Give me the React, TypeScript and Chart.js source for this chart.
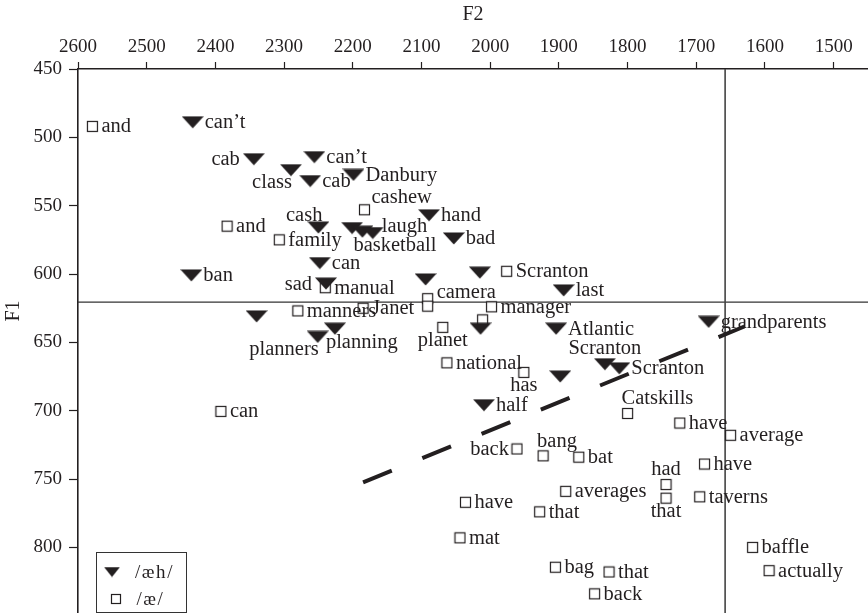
import React, { useEffect, useRef } from 'react';
import { Chart, registerables } from 'chart.js';

Chart.register(...registerables);

// ---------- data ----------
const seriesNames = ['/æh/', '/æ/'];

// /æh/ (filled triangles)
const aehF2 = [2433, 2344, 2256, 2290, 2262, 2199, 2250, 2201, 2186, 2171, 2089, 2053, 2248, 2435, 2239, 2094, 2015, 1893, 2340, 2251, 2226, 2014, 1904, 1682, 1833, 1812, 1898, 2009];
const aehF1 = [489, 516, 514.5, 524, 532, 527.5, 566, 566.4, 569, 570, 557, 574, 592, 601, 607, 604, 599, 612, 631, 646, 640, 640, 640, 635, 666, 669, 675, 696];
const aehWords = ['can’t', 'cab', 'can’t', 'class', 'cab', 'Danbury', 'cash', '', 'basketball', 'laugh', 'hand', 'bad', 'can', 'ban', 'sad', '', '', 'last', '', 'planners', 'planning', '', 'Atlantic', 'grandparents', 'Scranton', 'Scranton', '', 'half'];
const aehLabelSide = ['r', 'l', 'r', 'bl', 'r', 'r', 'al', '', 'br', 'ru', 'r', 'r', 'r', 'r', 'l', '', '', 'r', '', 'bl', 'br', '', 'r', 'r', 'a', 'r', '', 'r'];

// /æ/ (open squares)
const aeF2 = [2579, 2183, 2383, 2307, 2240, 1976, 2091, 2091, 2280, 2185, 1998, 2011, 2069, 2063, 1951, 2392, 1800, 1724, 1650, 1961, 1923, 1871, 1688, 1744, 1744, 1890, 1695, 2036, 1928, 2044, 1618, 1905, 1827, 1594, 1848];
const aeF1 = [492, 553, 565, 575, 610, 598, 618, 623.5, 627, 625, 624, 633.5, 639, 665, 672, 700.5, 702, 709, 718, 728, 733, 734, 739, 754, 764, 759, 763, 767, 774, 793, 800, 814.5, 818, 817, 834];
const aeWords = ['and', 'cashew', 'and', 'family', 'manual', 'Scranton', 'camera', '', 'manners', 'Janet', 'manager', '', 'planet', 'national', 'has', 'can', 'Catskills', 'have', 'average', 'back', 'bang', 'bat', 'have', 'had', 'that', 'averages', 'taverns', 'have', 'that', 'mat', 'baffle', 'bag', 'that', 'actually', 'back'];
const aeLabelSide = ['r', 'ar', 'r', 'r', 'r', 'r', 'ru', '', 'r', 'r', 'r', '', 'b', 'r', 'b', 'r', 'ac', 'r', 'r', 'l', 'ac', 'r', 'r', 'a', 'b', 'r', 'r', 'r', 'r', 'r', 'r', 'r', 'r', 'r', 'r'];

// reference lines and dashed boundary
const refF2 = 1658;
const refF1 = 620.5;
const boundaryF2 = [2185, 1630];
const boundaryF1 = [752.4, 638.4];

// axes
const xTicks = [2600, 2500, 2400, 2300, 2200, 2100, 2000, 1900, 1800, 1700, 1600, 1500];
const yTicks = [450, 500, 550, 600, 650, 700, 750, 800];
const xRange = [1450, 2600];
const yRange = [450, 848];
const xTitle = 'F2';
const yTitle = 'F1';

// ---------- styles ----------
const INK = '#231f20';
const FONT = '"Liberation Serif", "Times New Roman", serif';

function makeTriangle(w: number, h: number) {
  const c = document.createElement('canvas');
  c.width = w;
  c.height = h;
  const g = c.getContext('2d')!;
  g.fillStyle = INK;
  g.beginPath();
  g.moveTo(0, 0.5);
  g.lineTo(w, 0.5);
  g.lineTo(w / 2, h - 0.5);
  g.closePath();
  g.fill();
  return c;
}

function makeSquare(s: number) {
  const c = document.createElement('canvas');
  c.width = s + 3;
  c.height = s + 3;
  const g = c.getContext('2d')!;
  g.fillStyle = '#ffffff';
  g.fillRect(1.5, 1.5, s, s);
  g.strokeStyle = INK;
  g.lineWidth = 1.2;
  g.strokeRect(1.5, 1.5, s, s);
  return c;
}

function placement(code: string, tri: boolean) {
  switch (code) {
    case 'r': return { dx: tri ? 12 : 9, dy: 6, align: 'left' as CanvasTextAlign };
    case 'l': return { dx: tri ? -14 : -8, dy: 6, align: 'right' as CanvasTextAlign };
    case 'a': return { dx: 0, dy: -10, align: 'center' as CanvasTextAlign };
    case 'b': return { dx: 0, dy: 19, align: 'center' as CanvasTextAlign };
    case 'ar': return { dx: 7, dy: -7, align: 'left' as CanvasTextAlign };
    case 'ac': return { dx: -6, dy: -9, align: 'left' as CanvasTextAlign };
    case 'al': return { dx: 4, dy: -7, align: 'right' as CanvasTextAlign };
    case 'bl': return { dx: 1, dy: 18, align: 'right' as CanvasTextAlign };
    case 'br': return { dx: -9, dy: 19, align: 'left' as CanvasTextAlign };
    case 'ru': return { dx: 9, dy: -1, align: 'left' as CanvasTextAlign };
    default: return { dx: 10, dy: 6, align: 'left' as CanvasTextAlign };
  }
}

export default function App() {
  const ref = useRef<HTMLCanvasElement | null>(null);

  useEffect(() => {
    if (!ref.current) return;
    const tri = makeTriangle(22, 13);
    const sq = makeSquare(10);
    const legTri = makeTriangle(16, 11);
    const legSq = makeSquare(9);

    const pointLabels = {
      id: 'pointLabels',
      afterDatasetsDraw(chart: any) {
        const ctx = chart.ctx;
        ctx.save();
        ctx.fillStyle = INK;
        ctx.font = `20.5px ${FONT}`;
        ctx.textBaseline = 'alphabetic';
        const sets = [
          { idx: 0, words: aehWords, sides: aehLabelSide, tri: true },
          { idx: 1, words: aeWords, sides: aeLabelSide, tri: false },
        ];
        sets.forEach((s) => {
          const meta = chart.getDatasetMeta(s.idx);
          meta.data.forEach((el: any, i: number) => {
            const w = s.words[i];
            if (!w) return;
            const p = placement(s.sides[i], s.tri);
            ctx.textAlign = p.align;
            ctx.fillText(w, el.x + p.dx, el.y + p.dy);
          });
        });
        ctx.restore();
      },
      afterDraw(chart: any) {
        const ctx = chart.ctx;
        const area = chart.chartArea;
        ctx.save();
        ctx.fillStyle = INK;
        // axis titles
        ctx.font = `20px ${FONT}`;
        ctx.textAlign = 'center';
        ctx.textBaseline = 'middle';
        ctx.fillText(xTitle, (area.left + area.right) / 2, 15);
        ctx.save();
        ctx.translate(14, 311);
        ctx.rotate(-Math.PI / 2);
        ctx.fillText(yTitle, 0, 0);
        ctx.restore();
        // legend
        const bx = area.left + 18.5;
        const by = area.bottom - 60.5;
        ctx.fillStyle = '#ffffff';
        ctx.fillRect(bx, by, 90, 60);
        ctx.strokeStyle = '#333333';
        ctx.lineWidth = 1;
        ctx.strokeRect(bx, by, 90, 60);
        ctx.drawImage(legTri, bx + 15.5 - legTri.width / 2, by + 19.5 - legTri.height / 2);
        ctx.drawImage(legSq, bx + 19.5 - legSq.width / 2, by + 46.5 - legSq.height / 2);
        ctx.fillStyle = INK;
        ctx.font = `19px ${FONT}`;
        ctx.textAlign = 'left';
        ctx.textBaseline = 'alphabetic';
        ctx.fillText(seriesNames[0].split('').join('\u200A'), bx + 38.5, by + 25.5);
        ctx.fillText(seriesNames[1].split('').join('\u200A'), bx + 40, by + 52.5);
        ctx.restore();
      },
    };

    const chart = new Chart(ref.current, {
      type: 'scatter',
      data: {
        datasets: [
          {
            label: seriesNames[0],
            data: aehF2.map((x, i) => ({ x, y: aehF1[i] })),
            pointStyle: tri as any,
            pointRadius: 8,
            backgroundColor: INK,
            borderColor: INK,
          },
          {
            label: seriesNames[1],
            data: aeF2.map((x, i) => ({ x, y: aeF1[i] })),
            pointStyle: sq as any,
            pointRadius: 6,
            backgroundColor: '#fff',
            borderColor: INK,
          },
          {
            type: 'line',
            label: 'boundary',
            data: boundaryF2.map((x, i) => ({ x, y: boundaryF1[i] })),
            borderColor: INK,
            borderWidth: 4,
            borderDash: [31, 33],
            borderCapStyle: 'butt',
            pointRadius: 0,
            fill: false,
          } as any,
          {
            type: 'line',
            label: 'refF2',
            data: [{ x: refF2, y: yRange[0] }, { x: refF2, y: yRange[1] }],
            borderColor: '#444444',
            borderWidth: 1.6,
            pointRadius: 0,
            fill: false,
          } as any,
          {
            type: 'line',
            label: 'refF1',
            data: [{ x: xRange[0], y: refF1 }, { x: xRange[1], y: refF1 }],
            borderColor: '#333333',
            borderWidth: 1.3,
            pointRadius: 0,
            fill: false,
          } as any,
        ],
      },
      options: {
        animation: false,
        responsive: false,
        events: [],
        layout: { padding: 0, autoPadding: false },
        plugins: {
          legend: { display: false },
          tooltip: { enabled: false },
        },
        scales: {
          x: {
            type: 'linear',
            position: 'top',
            reverse: true,
            min: xRange[0],
            max: xRange[1],
            afterBuildTicks: (s: any) => {
              s.ticks = xTicks.map((v) => ({ value: v }));
            },
            afterFit: (s: any) => {
              s.height = 69;
              s.paddingLeft = 0;
              s.paddingRight = 0;
            },
            grid: {
              drawOnChartArea: false,
              drawTicks: true,
              tickLength: 7,
              tickColor: INK,
              tickWidth: 1.2,
            },
            border: { display: true, color: INK, width: 1.6 },
            ticks: {
              color: INK,
              font: { family: FONT, size: 19 },
              padding: 4,
              maxRotation: 0,
              autoSkip: false,
              callback: (v: any) => String(v),
            },
          },
          y: {
            type: 'linear',
            position: 'left',
            reverse: true,
            min: yRange[0],
            max: yRange[1],
            afterBuildTicks: (s: any) => {
              s.ticks = yTicks.map((v) => ({ value: v }));
            },
            afterFit: (s: any) => {
              s.width = 78;
              s.paddingTop = 0;
              s.paddingBottom = 0;
            },
            grid: {
              drawOnChartArea: false,
              drawTicks: true,
              tickLength: 9,
              tickColor: INK,
              tickWidth: 1.2,
            },
            border: { display: true, color: INK, width: 1.6 },
            ticks: {
              color: INK,
              font: { family: FONT, size: 19 },
              padding: 7,
              autoSkip: false,
              callback: (v: any) => String(v),
            },
          },
        },
      },
      plugins: [pointLabels],
    });

    return () => chart.destroy();
  }, []);

  return (
    <div style={{ position: 'fixed', left: 0, top: 0, width: 868, height: 613, background: '#fff' }}>
      <canvas ref={ref} width={868} height={613} style={{ display: 'block', width: 868, height: 613 }} />
    </div>
  );
}
